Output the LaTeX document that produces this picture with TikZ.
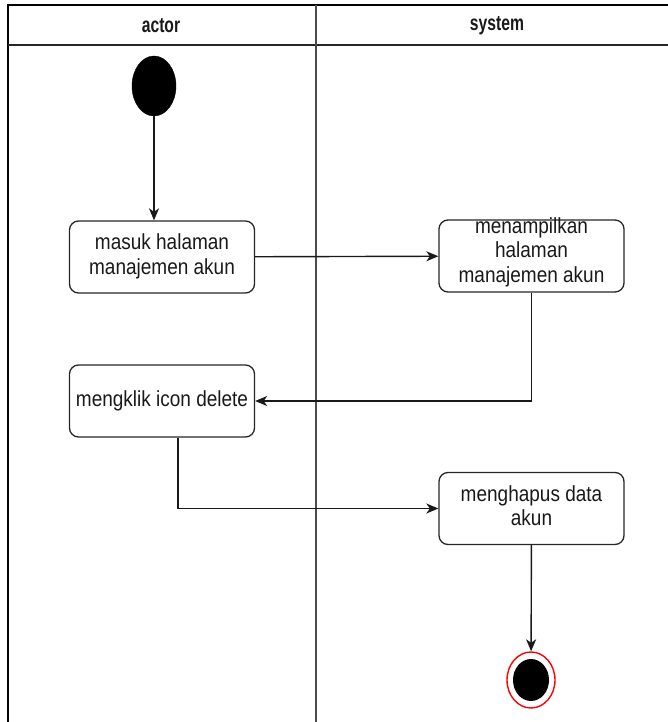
\documentclass[tikz,border=0pt]{standalone}
\usepackage{fontspec}
\setmainfont{Liberation Sans}
\usetikzlibrary{arrows.meta,shapes.geometric}
\begin{document}
\begin{tikzpicture}[x=1pt,y=-1pt,
  lane/.style={line width=1.8pt,draw=black!85},
  actbox/.style={draw=black!85,line width=1.3pt,rounded corners=9pt,
    minimum width=185pt,minimum height=72pt,inner sep=0pt},
  acttext/.style={inner sep=0pt,text=black!90,
    font=\fontsize{19}{21.7}\selectfont},
  headtext/.style={inner sep=0pt,text=black!90,
    font=\bfseries\fontsize{16.5}{19}\selectfont},
  flow/.style={draw=black!90,line width=1.4pt,
    -{Stealth[length=12pt,width=10pt,inset=3.5pt]}},
]
\useasboundingbox (0,0) rectangle (668,722);
% swimlane frame
\draw[lane,draw=black] (8,722) -- (8,5) -- (676,5);
\draw[lane] (8,45) -- (676,45);
\draw[lane,draw=black!70] (316,5) -- (316,722);
\node[headtext] (hactor) at (161,26) {\scalebox{0.95}[1.3]{actor}};
\node[headtext] (hsystem) at (497,26) {\scalebox{0.95}[1.3]{system}};
% start and end states
\node[ellipse,fill=black,draw=black,minimum width=44pt,minimum height=60pt,inner sep=0pt] (start) at (154,86) {};
\node[ellipse,draw=red,line width=1.4pt,fill=white,minimum width=48pt,minimum height=56pt,inner sep=0pt] (final) at (531,680) {};
\node[ellipse,fill=black,minimum width=36pt,minimum height=42pt,inner sep=0pt] (finaldot) at (final) {};
% activities
\node[actbox] (b1) at (162,257) {};
\node[acttext] (t1) at (b1) {\scalebox{1}[1.15]{\begin{tabular}{@{}c@{}}masuk halaman\\manajemen akun\end{tabular}}};
\node[actbox] (b2) at (531.5,256) {};
\node[acttext] (t2) at ([yshift=3pt]b2) {\scalebox{1}[1.15]{\begin{tabular}{@{}c@{}}menampilkan\\halaman\\manajemen akun\end{tabular}}};
\node[actbox] (b3) at (162,401) {};
\node[acttext] (t3) at (b3) {\scalebox{1}[1.15]{mengklik icon delete}};
\node[actbox] (b4) at (531.5,508.5) {};
\node[acttext] (t4) at (b4) {\scalebox{1}[1.15]{\begin{tabular}{@{}c@{}}menghapus data\\akun\end{tabular}}};
% control flow
\draw[flow] (start.south) -- (start.south |- b1.north);
\draw[flow] (b1) -- (b2);
\draw[flow] (b2.south) |- (b3.east);
\draw[flow] ([xshift=16pt]b3.south) |- (b4.west);
\draw[flow] (b4) -- (final);
\end{tikzpicture}
\end{document}
